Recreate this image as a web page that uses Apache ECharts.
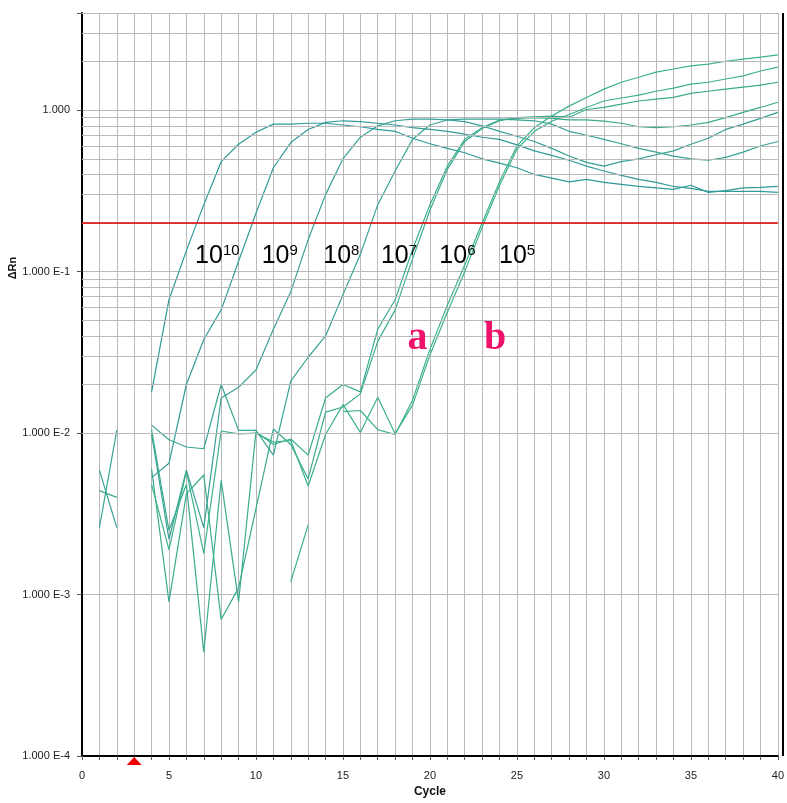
<!DOCTYPE html>
<html><head><meta charset="utf-8">
<script src="https://cdn.jsdelivr.net/npm/echarts@6/dist/echarts.min.js"></script>
<style>html,body{margin:0;padding:0;background:#fff}#c{width:787px;height:803px}</style>
</head><body><div id="c"></div>
<script>
// ---------------- data ----------------
const cycles = [];
for (let i = 1; i <= 40; i++) cycles.push(i);

const threshold = 0.2;
const baselineMarkCycle = 3;

// ΔRn per cycle (1..40); null = not plotted
const rn_1e10 = [null,null,null,0.018,0.067,0.135,0.26,0.48,0.615,0.73,0.82,0.82,0.83,0.83,0.81,0.79,0.76,0.74,0.67,0.62,0.58,0.545,0.50,0.47,0.44,0.40,0.38,0.36,0.373,0.357,0.347,0.337,0.33,0.323,0.343,0.31,0.318,0.33,0.333,0.337];
const rn_1e9  = [null,null,null,0.0053,0.0065,0.020,0.038,0.058,0.116,0.23,0.44,0.63,0.76,0.84,0.86,0.85,0.83,0.81,0.78,0.76,0.74,0.71,0.68,0.66,0.61,0.56,0.525,0.49,0.45,0.42,0.395,0.373,0.357,0.337,0.328,0.314,0.314,0.314,0.314,0.31];
const rn_1e8  = [0.0059,0.0026,null,0.0098,0.0022,0.0059,0.0026,0.0165,0.0192,0.0246,0.044,0.075,0.158,0.30,0.50,0.68,0.80,0.86,0.88,0.88,0.87,0.85,0.80,0.74,0.69,0.64,0.58,0.52,0.475,0.45,0.48,0.50,0.53,0.56,0.615,0.67,0.76,0.82,0.89,0.97];
const rn_1e7  = [0.0026,0.0104,null,0.0112,0.0091,0.0082,0.0080,0.020,0.0104,0.0104,0.0073,0.021,0.0295,0.040,0.072,0.128,0.26,0.42,0.66,0.81,0.87,0.88,0.88,0.88,0.87,0.86,0.82,0.74,0.70,0.66,0.62,0.58,0.55,0.52,0.50,0.49,0.51,0.55,0.60,0.64];
const rn_1e6a = [0.0044,0.0040,null,0.0105,0.0025,0.0048,0.00044,0.0051,0.0009,0.0102,0.0085,0.0092,0.0073,0.0165,0.020,0.018,0.044,0.067,0.137,0.26,0.45,0.66,0.78,0.87,0.89,0.90,0.89,0.87,0.87,0.855,0.83,0.79,0.78,0.79,0.81,0.84,0.90,0.97,1.04,1.12];
const rn_1e6b = [null,null,null,0.0060,0.0009,0.0042,0.0055,0.0007,0.0011,0.0034,0.0106,0.0085,0.0052,0.0135,0.0145,0.0175,0.037,0.058,0.12,0.24,0.43,0.64,0.77,0.86,0.90,0.91,0.92,0.905,1.01,1.04,1.09,1.14,1.17,1.20,1.27,1.31,1.35,1.39,1.43,1.49];
const rn_1e5a = [null,null,null,0.0048,0.0019,0.0058,0.0018,0.0103,0.0099,0.0100,0.0088,0.0090,0.0047,0.0098,0.0150,0.0101,0.0167,0.0099,0.0149,0.0305,0.056,0.10,0.188,0.342,0.573,0.74,0.855,0.94,1.04,1.14,1.19,1.24,1.31,1.37,1.45,1.49,1.56,1.63,1.75,1.85];
const rn_1e5b = [null,null,null,null,null,null,null,null,null,null,null,0.0012,0.0027,null,0.0136,0.0138,0.0105,0.0098,0.016,0.033,0.062,0.11,0.20,0.36,0.60,0.78,0.92,1.06,1.20,1.35,1.49,1.60,1.72,1.80,1.88,1.93,2.01,2.07,2.13,2.20];

const seriesList = [
  {name:'1e10', values: rn_1e10},
  {name:'1e9',  values: rn_1e9},
  {name:'1e8',  values: rn_1e8},
  {name:'1e7',  values: rn_1e7},
  {name:'1e6a', values: rn_1e6a},
  {name:'1e6b', values: rn_1e6b},
  {name:'1e5a', values: rn_1e5a},
  {name:'1e5b', values: rn_1e5b}
];

const dilutionLabels = [
  {base:'10', exp:'10'}, {base:'10', exp:'9'}, {base:'10', exp:'8'},
  {base:'10', exp:'7'}, {base:'10', exp:'6'}, {base:'10', exp:'5'}
];
const groupLabels = ['a', 'b'];

// ---------------- layout / style (not data) ----------------
const dilutionAnchorX = [6.50, 10.33, 13.87, 17.18, 20.54, 23.97];
const dilutionAnchorY = 0.122;
const groupAnchorX = [19.28, 23.75];
const groupAnchorY = 0.0385;
const lineColors = ['#2f9a9a','#339c98','#36a094','#38a492','#3aab8e','#3aab8e','#3cb18b','#3cb18b'];
const gridColor = '#b9b9b9';

const yMin = 0.0001, yMax = 4;
const minorGrid = [];
for (let e = -4; e <= 0; e++) {
  for (let m = 2; m <= 9; m++) {
    const v = m * Math.pow(10, e);
    if (v < yMax - 1e-9) minorGrid.push(v);
  }
}
minorGrid.push(yMax);

function fmtY(v) {
  const l = Math.log10(v);
  const r = Math.round(l);
  if (Math.abs(l - r) > 1e-6) return '';
  return r === 0 ? '1.000' : '1.000 E' + r;
}

const series = [];
// grid helper (minor horizontal lines)
series.push({
  type: 'line', data: [], z: 1, silent: true,
  markLine: {
    silent: true, symbol: ['none','none'], label: {show:false}, animation:false,
    lineStyle: {color: gridColor, width: 1, type: 'solid'},
    data: minorGrid.map(v => ({yAxis: v}))
  }
});
seriesList.forEach((s, i) => {
  series.push({
    type: 'line', name: s.name, z: 3,
    data: s.values.map((v, k) => [cycles[k], v == null ? '-' : v]),
    showSymbol: false, symbol: 'none', connectNulls: false,
    lineStyle: {color: lineColors[i], width: 1.2},
    animation: false
  });
});
series.push({
  type: 'line', data: [], z: 5, silent: true,
  markLine: {
    silent: true, symbol: ['none','none'], label: {show:false}, animation:false,
    lineStyle: {color: '#e40000', width: 1.5, type: 'solid'},
    data: [{yAxis: threshold}]
  },
  markPoint: {
    silent: true, animation:false,
    data: [
      {coord: [baselineMarkCycle, yMin], symbol: 'triangle', symbolSize: [15, 8], symbolOffset: [0, 5],
       itemStyle: {color: '#ee0000'}, label: {show: false}}
    ].concat(dilutionLabels.map((d, i) => ({
      coord: [dilutionAnchorX[i], dilutionAnchorY], symbol: 'circle', symbolSize: 0,
      label: {show: true, position: 'right', distance: 0,
        formatter: '{b|' + d.base + '}{s|' + d.exp + '}',
        rich: {
          b: {fontFamily: 'Liberation Sans, Arial', fontSize: 25, color: '#000', lineHeight: 28, verticalAlign: 'top'},
          s: {fontFamily: 'Liberation Sans, Arial', fontSize: 15, color: '#000', lineHeight: 28, verticalAlign: 'top', padding: [0,0,0,0]}
        }}
    }))).concat(groupLabels.map((g, i) => ({
      coord: [groupAnchorX[i], groupAnchorY], symbol: 'circle', symbolSize: 0,
      label: {show: true, position: 'inside', formatter: g,
        fontFamily: 'Liberation Serif, Times New Roman, serif', fontWeight: 'bold', fontSize: 40, color: '#f0116a'}
    })))
  }
});

const chart = echarts.init(document.getElementById('c'), null, {renderer: 'canvas'});
chart.setOption({
  animation: false,
  backgroundColor: '#ffffff',
  grid: {left: 82, right: 4, top: 13, bottom: 47, containLabel: false},
  xAxis: {
    type: 'value', min: 0, max: 40, interval: 1,
    axisLine: {show: true, onZero: false, lineStyle: {color: '#000', width: 2}},
    axisTick: {show: true, length: 4, lineStyle: {color: '#555'}},
    axisLabel: {margin: 14, fontFamily: 'Liberation Sans, Arial', fontSize: 11, color: '#222',
      formatter: v => (v % 5 === 0 ? String(v) : '')},
    splitLine: {show: true, lineStyle: {color: gridColor, width: 1}},
    name: 'Cycle', nameLocation: 'middle', nameGap: 28,
    nameTextStyle: {fontFamily: 'Liberation Sans, Arial', fontWeight: 'bold', fontSize: 12, color: '#111'}
  },
  yAxis: {
    type: 'log', logBase: 10, min: yMin, max: yMax,
    axisLine: {show: true, onZero: false, lineStyle: {color: '#000', width: 2}},
    axisTick: {show: true, length: 5, lineStyle: {color: '#555'}},
    axisLabel: {margin: 12, fontFamily: 'Liberation Sans, Arial', fontSize: 11, color: '#222', formatter: fmtY},
    splitLine: {show: true, lineStyle: {color: gridColor, width: 1}}
  },
  graphic: [
    {type: 'line', shape: {x1: 783, y1: 13, x2: 783, y2: 756}, style: {stroke: '#000', lineWidth: 2}, z: 10, silent: true},
    {type: 'text', x: 13, y: 268, rotation: Math.PI / 2,
     style: {text: 'ΔRn', fontFamily: 'Liberation Sans, Arial', fontWeight: 'bold', fontSize: 11, fill: '#111', align: 'center', verticalAlign: 'middle'}}
  ],
  series: series
});
</script>
</body></html>
